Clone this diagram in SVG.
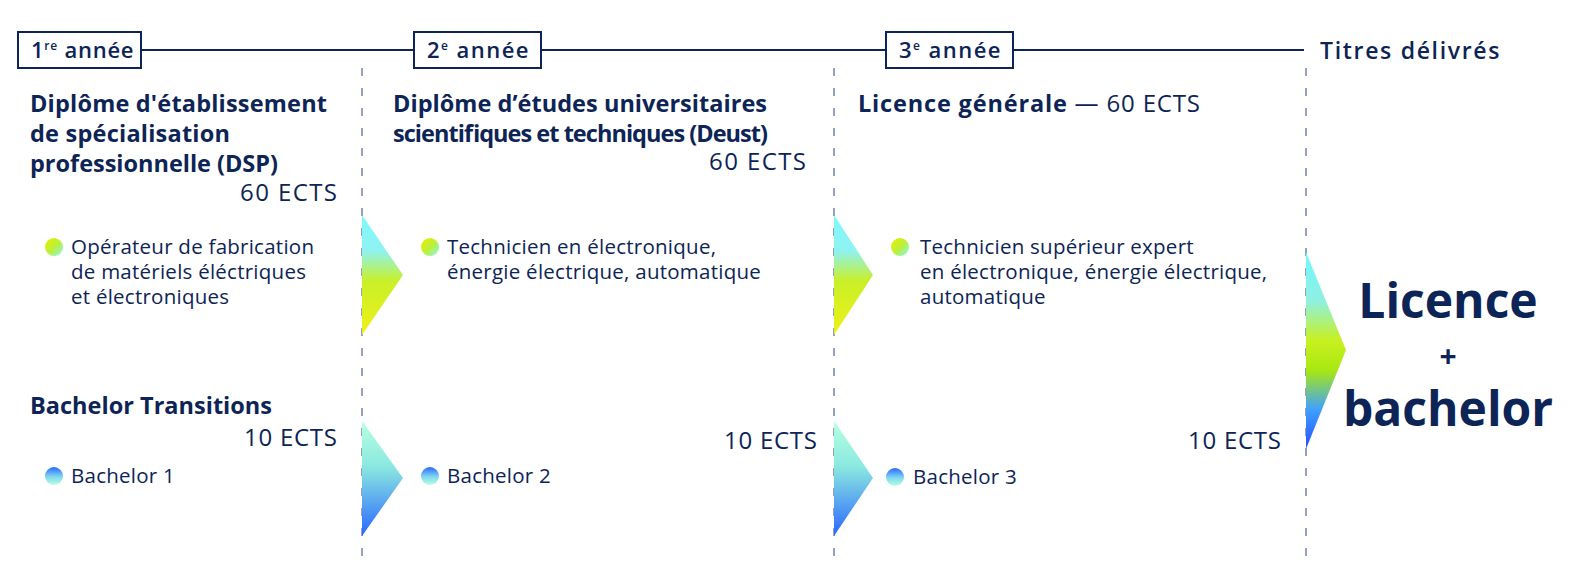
<svg xmlns="http://www.w3.org/2000/svg" width="1590" height="575" viewBox="0 0 1590 575">
<defs>
<style>
text{font-family:"Open Sans",Lato,"Liberation Sans",sans-serif;fill:#0d2456}
.h{font-size:23.5px;font-weight:700}
.e{font-size:24px;font-weight:400}
.i{font-size:20.5px;font-weight:400;letter-spacing:0.25px}
.y{font-size:22px;font-weight:600;letter-spacing:0.5px}
.sup{font-size:12px}
.box{fill:#fff;stroke:#0d2456;stroke-width:2}
.tl{stroke:#0d2456;stroke-width:2}
.dash{stroke:#5a70a0;stroke-width:1.3;stroke-dasharray:8 12}
.big{font-size:48px;font-weight:700;text-anchor:middle}
</style>
<linearGradient id="gUp" x1="0" y1="0" x2="0" y2="1">
<stop offset="0" stop-color="#7ff8ff"/>
<stop offset="0.3" stop-color="#8ff2f0"/>
<stop offset="0.55" stop-color="#c8f028"/>
<stop offset="1" stop-color="#f0f018"/>
</linearGradient>
<linearGradient id="gLow" x1="0" y1="0" x2="0" y2="1">
<stop offset="0" stop-color="#b8ffe0"/>
<stop offset="0.4" stop-color="#8ae8e0"/>
<stop offset="1" stop-color="#2a66ff"/>
</linearGradient>
<linearGradient id="gFin" x1="0" y1="0" x2="0" y2="1">
<stop offset="0" stop-color="#70f8ff"/>
<stop offset="0.25" stop-color="#90f0e0"/>
<stop offset="0.45" stop-color="#c8f020"/>
<stop offset="0.6" stop-color="#a8e810"/>
<stop offset="0.8" stop-color="#40a0ff"/>
<stop offset="1" stop-color="#2050ff"/>
</linearGradient>
<linearGradient id="bUp" x1="0" y1="0" x2="1" y2="1">
<stop offset="0.2" stop-color="#d8f010"/>
<stop offset="0.55" stop-color="#b8f040"/>
<stop offset="1" stop-color="#80f8ff"/>
</linearGradient>
<linearGradient id="bLow" x1="0" y1="0" x2="0" y2="1">
<stop offset="0" stop-color="#2a6aff"/>
<stop offset="0.55" stop-color="#80d8f0"/>
<stop offset="1" stop-color="#b8ffe0"/>
</linearGradient>
</defs>
<rect width="1590" height="575" fill="#fff"/>

<g id="connectors">
<line class="tl" x1="141" y1="50" x2="414" y2="50"/>
<line class="tl" x1="541" y1="50" x2="886" y2="50"/>
<line class="tl" x1="1013" y1="50" x2="1304" y2="50"/>
<line class="dash" x1="362" y1="68" x2="362" y2="566"/>
<line class="dash" x1="834" y1="68" x2="834" y2="566"/>
<line class="dash" x1="1306" y1="68" x2="1306" y2="566"/>
<polygon points="362,215 403,275 362,335" fill="url(#gUp)"/>
<polygon points="834,215 873,275 834,335" fill="url(#gUp)"/>
<polygon points="362,421 403,478 362,536" fill="url(#gLow)"/>
<polygon points="834,421 873,478 834,536" fill="url(#gLow)"/>
<polygon points="1306,252 1346,350 1306,449" fill="url(#gFin)"/>
</g>

<g id="year1">
<rect class="box" x="18" y="32" width="123" height="36"/>
<text class="y" x="31" y="58" textLength="103">1<tspan class="sup" dy="-8">re</tspan><tspan dy="8"> année</tspan></text>
</g>
<g id="year2">
<rect class="box" x="414" y="32" width="127" height="36"/>
<text class="y" x="427" y="58" textLength="102">2<tspan class="sup" dy="-8">e</tspan><tspan dy="8"> année</tspan></text>
</g>
<g id="year3">
<rect class="box" x="886" y="32" width="127" height="36"/>
<text class="y" x="899" y="58" textLength="102">3<tspan class="sup" dy="-8">e</tspan><tspan dy="8"> année</tspan></text>
</g>
<g id="titres">
<text class="y" x="1320" y="59" style="font-size:23px" textLength="180">Titres délivrés</text>
</g>

<g id="dsp">
<text class="h" x="30" y="112" textLength="297">Diplôme d'établissement</text>
<text class="h" x="30" y="142" textLength="200">de spécialisation</text>
<text class="h" x="30" y="172" textLength="248">professionnelle (DSP)</text>
<text class="e" x="337" y="201" text-anchor="end" textLength="97">60 ECTS</text>
<circle cx="54" cy="247" r="9" fill="url(#bUp)"/>
<text class="i" x="71" y="254">Opérateur de fabrication</text>
<text class="i" x="71" y="279">de matériels éléctriques</text>
<text class="i" x="71" y="304">et électroniques</text>
</g>

<g id="deust">
<text class="h" x="393" y="112" textLength="374">Diplôme d’études universitaires</text>
<text class="h" x="393" y="142" textLength="375">scientifiques et techniques (Deust)</text>
<text class="e" x="806" y="170" text-anchor="end" textLength="97">60 ECTS</text>
<circle cx="430" cy="247" r="9" fill="url(#bUp)"/>
<text class="i" x="447" y="254">Technicien en électronique,</text>
<text class="i" x="447" y="279">énergie électrique, automatique</text>
</g>

<g id="licence">
<text class="h" x="858" y="112" textLength="342">Licence générale <tspan class="e">— 60 ECTS</tspan></text>
<circle cx="900" cy="247" r="9" fill="url(#bUp)"/>
<text class="i" x="920" y="254">Technicien supérieur expert</text>
<text class="i" x="920" y="279">en électronique, énergie électrique,</text>
<text class="i" x="920" y="304">automatique</text>
</g>

<g id="bachelor1">
<text class="h" x="30" y="414" textLength="242">Bachelor Transitions</text>
<text class="e" x="337" y="446" text-anchor="end" textLength="93">10 ECTS</text>
<circle cx="54" cy="476" r="9" fill="url(#bLow)"/>
<text class="i" x="71" y="483">Bachelor 1</text>
</g>

<g id="bachelor2">
<text class="e" x="817" y="449" text-anchor="end" textLength="93">10 ECTS</text>
<circle cx="430" cy="476" r="9" fill="url(#bLow)"/>
<text class="i" x="447" y="483">Bachelor 2</text>
</g>

<g id="bachelor3">
<text class="e" x="1281" y="449" text-anchor="end" textLength="93">10 ECTS</text>
<circle cx="895" cy="477" r="9" fill="url(#bLow)"/>
<text class="i" x="913" y="484">Bachelor 3</text>
</g>

<g id="result">
<text class="big" x="1448" y="318">Licence</text>
<text class="big" x="1448" y="367" style="font-size:30px">+</text>
<text class="big" x="1448" y="426">bachelor</text>
</g>
</svg>
